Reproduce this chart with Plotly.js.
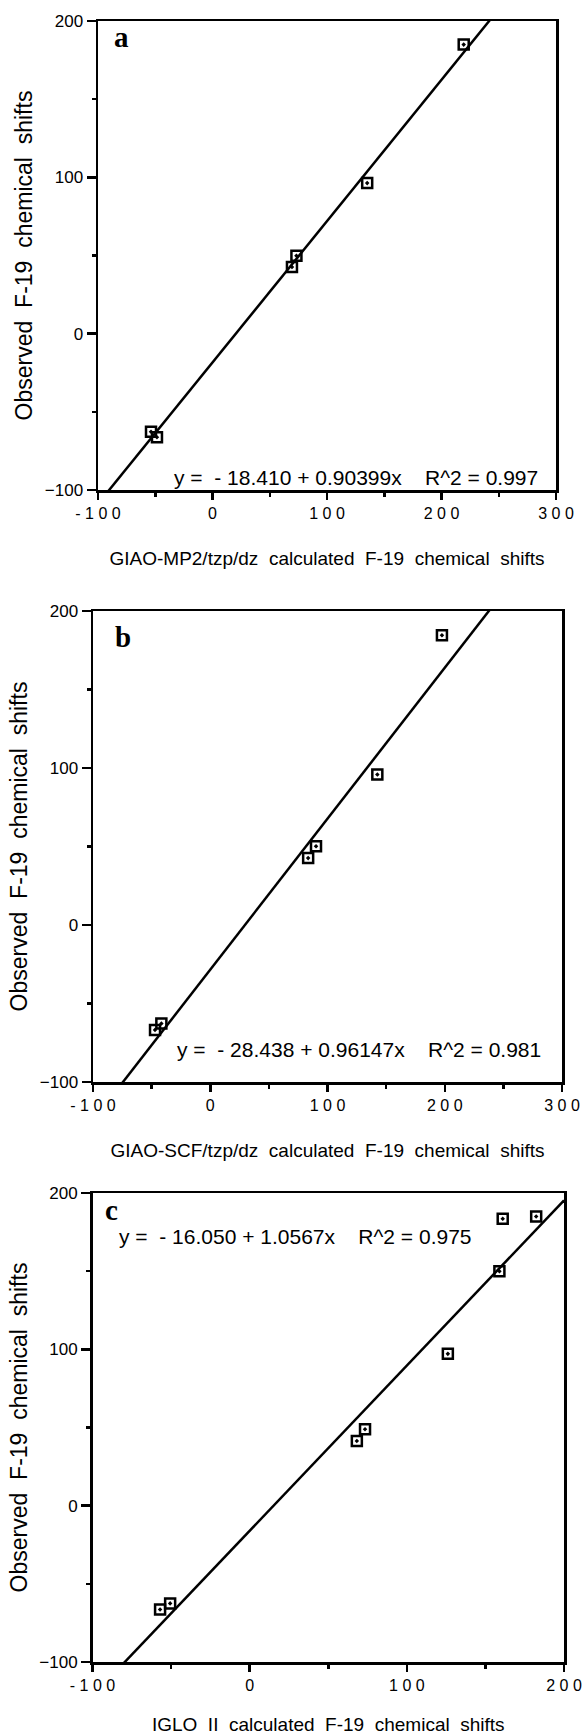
<!DOCTYPE html>
<html><head><meta charset="utf-8">
<script src="https://cdn.plot.ly/plotly-3.0.1.min.js"></script>
<style>html,body{margin:0;padding:0;background:#fff}</style>
</head><body><div id="chart" style="width:582px;height:1735px"></div>
<script>
// ---- data ----
const panelLabels = ['a', 'b', 'c'];
const xTitles = [
  'GIAO-MP2/tzp/dz\u00a0 calculated\u00a0 F-19\u00a0 chemical\u00a0 shifts',
  'GIAO-SCF/tzp/dz\u00a0 calculated\u00a0 F-19\u00a0 chemical\u00a0 shifts',
  'IGLO\u00a0 II\u00a0 calculated\u00a0 F-19\u00a0 chemical\u00a0 shifts'
];
const yTitle = 'Observed\u00a0 F-19\u00a0 chemical\u00a0 shifts';
const aCalc = [-53.7, -48.5, 69.4, 73.3, 135.1, 219.4];
const aObs  = [-62.7, -66.2, 42.6, 49.9, 96.3, 184.9];
const bCalc = [-47.1, -41.7, 83.5, 90.2, 142.5, 197.6];
const bObs  = [-66.8, -62.8, 42.6, 50.1, 95.8, 184.5];
const cCalc = [-57.0, -50.6, 68.2, 73.4, 126.1, 158.9, 161.0, 182.3];
const cObs  = [-66.4, -62.5, 41.4, 48.9, 97.1, 149.9, 183.5, 185.0];
const intercepts = [-18.410, -28.438, -16.050];
const slopes = [0.90399, 0.96147, 1.0567];
const interceptLabels = ['18.410', '28.438', '16.050'];
const slopeLabels = ['0.90399', '0.96147', '1.0567'];
const r2Labels = ['0.997', '0.981', '0.975'];
const xTickVals = [[-100, 0, 100, 200, 300], [-100, 0, 100, 200, 300], [-100, 0, 100, 200]];
const yTickVals = [-100, 0, 100, 200];

// ---- layout helpers ----
const W = 582, H = 1735;
const px = x => x / W, py = y => 1 - y / H;
const boxes = [ // [left, right, top, bottom] in px
  [98, 556, 21, 490],
  [93, 562, 611, 1082],
  [92.5, 564, 1193, 1662]
];
const xRanges = [[-100, 300], [-100, 300], [-100, 200]];
const yRange = [-100, 200];
const labelPos = [[121.5, 37], [122.5, 637], [111, 1210]];
const eqPos = [[355.5, 478], [358.5, 1049], [295.5, 1236]];
const calc = [aCalc, bCalc, cCalc];
const obs = [aObs, bObs, cObs];

const FONT = 'Liberation Sans, Arial, Helvetica, sans-serif';
const traces = [];
const layout = {
  width: W, height: H,
  margin: {l: 0, r: 0, t: 0, b: 0},
  paper_bgcolor: '#fff', plot_bgcolor: '#fff',
  showlegend: false,
  font: {family: FONT, color: '#000', size: 17},
  annotations: []
};

for (let i = 0; i < 3; i++) {
  const sfx = i === 0 ? '' : String(i + 1);
  const xa = 'x' + sfx, ya = 'y' + sfx;
  const [l, r, t, b] = boxes[i];
  const xr = xRanges[i];
  traces.push({
    x: xr, y: xr.map(v => intercepts[i] + slopes[i] * v),
    xaxis: xa, yaxis: ya, mode: 'lines', type: 'scatter',
    line: {color: '#000', width: 2.5}, hoverinfo: 'skip'
  });
  traces.push({
    x: calc[i], y: obs[i], xaxis: xa, yaxis: ya, mode: 'markers', type: 'scatter',
    marker: {symbol: 'square-open-dot', size: 10, color: '#000', line: {width: 2.5, color: '#000'}},
    cliponaxis: false
  });
  const common = {
    showline: true, linewidth: 2.5, linecolor: '#000', mirror: true,
    showgrid: false, zeroline: false, ticks: 'outside', tickwidth: 2.5, tickcolor: '#000',
    fixedrange: true, ticklabeloverflow: 'allow'
  };
  layout['xaxis' + sfx] = Object.assign({}, common, {
    domain: [px(l), px(r)], anchor: ya, range: xr,
    tickmode: 'array', tickvals: xTickVals[i],
    ticktext: xTickVals[i].map(v => String(v).split('').join('\u00a0')),
    ticklen: 7, tickfont: {size: 16, family: FONT},
    minor: {dtick: 50, tick0: -100, ticks: 'outside', ticklen: 4, tickwidth: 2.5, tickcolor: '#000', showgrid: false},
    title: {text: xTitles[i], font: {size: 19, family: FONT}, standoff: 31}
  });
  layout['yaxis' + sfx] = Object.assign({}, common, {
    domain: [py(b), py(t)], anchor: xa, range: yRange,
    tickmode: 'array', tickvals: yTickVals,
    ticklen: 9, tickfont: {size: 17, family: FONT},
    minor: {dtick: 50, tick0: -100, ticks: 'outside', ticklen: 4, tickwidth: 2.5, tickcolor: '#000', showgrid: false},
    title: {text: yTitle, font: {size: 23, family: FONT}, standoff: 6}
  });
  layout.annotations.push({
    xref: 'paper', yref: 'paper', x: px(labelPos[i][0]), y: py(labelPos[i][1]),
    xanchor: 'center', yanchor: 'middle', showarrow: false,
    text: '<b>' + panelLabels[i] + '</b>',
    font: {family: 'Liberation Serif, Times New Roman, serif', size: 29, color: '#000'}
  });
  layout.annotations.push({
    xref: 'paper', yref: 'paper', x: px(eqPos[i][0]), y: py(eqPos[i][1]),
    xanchor: 'center', yanchor: 'middle', showarrow: false,
    text: 'y =\u00a0\u00a0-\u00a0' + interceptLabels[i] + '\u00a0+\u00a0' + slopeLabels[i] +
          'x\u00a0\u00a0\u00a0\u00a0R^2\u00a0=\u00a0' + r2Labels[i],
    font: {family: FONT, size: 21, color: '#000'}
  });
}

Plotly.newPlot('chart', traces, layout, {staticPlot: true, displayModeBar: false});
</script></body></html>
